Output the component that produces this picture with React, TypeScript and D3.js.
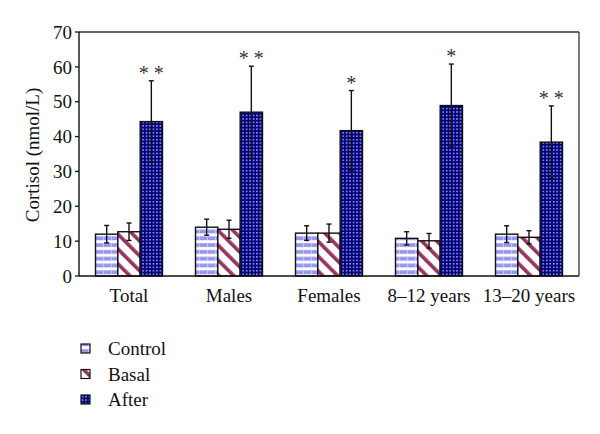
import React from "react";
import * as d3 from "d3";

const categories = ["Total", "Males", "Females", "8–12 years", "13–20 years"];
const seriesNames = ["Control", "Basal", "After"];
const controlValues = [12.0, 14.0, 12.3, 10.8, 12.0];
const controlErrors = [2.5, 2.3, 2.1, 1.9, 2.4];
const basalValues = [12.7, 13.4, 12.3, 10.1, 11.1];
const basalErrors = [2.5, 2.6, 2.6, 2.1, 1.9];
const afterValues = [44.3, 47.0, 41.7, 48.9, 38.4];
const afterErrors = [11.7, 13.2, 11.5, 11.9, 10.4];
const significance = ["**", "**", "*", "*", "**"];
const yTicks = [0, 10, 20, 30, 40, 50, 60, 70];
const yLabel = "Cortisol (nmol/L)";

const W = 600;
const H = 434;
const M = { left: 79, right: 21, top: 32, bottom: 158 };
const FONT = "'Liberation Serif', 'DejaVu Serif', serif";
const fills = ["url(#pControl)", "url(#pBasal)", "url(#pAfter)"];

export default function App() {
  const x0 = d3
    .scaleBand<string>()
    .domain(categories)
    .range([M.left, W - M.right])
    .paddingInner(0.33)
    .paddingOuter(0.165);
  const x1 = d3
    .scaleBand<string>()
    .domain(seriesNames)
    .range([0, x0.bandwidth()]);
  const y = d3.scaleLinear().domain([0, 70]).range([H - M.bottom, M.top]);

  const values = [controlValues, basalValues, afterValues];
  const errors = [controlErrors, basalErrors, afterErrors];
  const capW = 5;

  return (
    <svg
      width={W}
      height={H}
      style={{ position: "absolute", left: 0, top: 0, background: "#fff", fontFamily: FONT }}
    >
      <defs>
        <pattern id="pControl" patternUnits="userSpaceOnUse" width="8" height="6.8" y={H - M.bottom}>
          <rect width="8" height="6.8" fill="#ffffff" />
          <rect y="1.2" width="8" height="3.8" fill="#9696f2" />
          <rect x="7" y="1.2" width="1" height="3.8" fill="#c4c4f8" />
        </pattern>
        <pattern
          id="pBasal"
          patternUnits="userSpaceOnUse"
          width="10.5"
          height="10.5"
          patternTransform="rotate(-45)"
        >
          <rect width="10.5" height="10.5" fill="#ffffff" />
          <rect width="3.6" height="10.5" fill="#993361" />
        </pattern>
        <pattern id="pAfter" patternUnits="userSpaceOnUse" width="3.45" height="3.45">
          <rect width="3.45" height="3.45" fill="#000080" />
          <rect x="1" y="1" width="1.3" height="1.3" fill="#e6e6ff" />
        </pattern>
      </defs>

      {/* plot frame top and right */}
      <line x1={M.left} x2={W - M.right} y1={M.top} y2={M.top} stroke="#333" strokeWidth={1.3} />
      <line x1={W - M.right} x2={W - M.right} y1={M.top} y2={H - M.bottom} stroke="#333" strokeWidth={1.3} />

      {/* bars */}
      {categories.map((c, i) => (
        <g key={c}>
          {seriesNames.map((s, k) => {
            const v = values[k][i];
            const e = errors[k][i];
            const bx = (x0(c) as number) + (x1(s) as number);
            const bw = x1.bandwidth();
            const cx = bx + bw / 2;
            return (
              <g key={s}>
                <rect
                  x={bx}
                  y={y(v)}
                  width={bw}
                  height={y(0) - y(v)}
                  fill={fills[k]}
                  stroke="#111"
                  strokeWidth={1.4}
                />
                <line x1={cx} x2={cx} y1={y(v + e)} y2={y(v - e)} stroke="#111" strokeWidth={1.4} />
                <line x1={cx - capW / 2} x2={cx + capW / 2} y1={y(v + e)} y2={y(v + e)} stroke="#111" strokeWidth={1.4} />
                <line x1={cx - capW / 2} x2={cx + capW / 2} y1={y(v - e)} y2={y(v - e)} stroke="#111" strokeWidth={1.4} />
                {k === 2 && (
                  <text
                    x={cx}
                    y={y(v + e) - 1}
                    textAnchor="middle"
                    fontSize={20}
                    fill="#333"
                  >
                    {significance[i].split("").join(" ")}
                  </text>
                )}
              </g>
            );
          })}
        </g>
      ))}

      {/* x axis */}
      <line x1={M.left} x2={W - M.right} y1={y(0)} y2={y(0)} stroke="#111" strokeWidth={1.4} />
      {categories.map((c) => (
        <text
          key={c}
          x={(x0(c) as number) + x0.bandwidth() / 2}
          y={302}
          textAnchor="middle"
          fontSize={19}
          fill="#111"
        >
          {c}
        </text>
      ))}

      {/* y axis */}
      <line x1={M.left} x2={M.left} y1={M.top} y2={y(0)} stroke="#111" strokeWidth={1.4} />
      {yTicks.map((t) => (
        <g key={t}>
          <line x1={M.left - 4} x2={M.left} y1={y(t)} y2={y(t)} stroke="#111" strokeWidth={1.3} />
          <text x={M.left - 7} y={y(t)} dy="0.35em" textAnchor="end" fontSize={19} fill="#111">
            {t}
          </text>
        </g>
      ))}
      <text
        transform={`translate(39, ${(M.top + y(0)) / 2 + 1}) rotate(-90)`}
        textAnchor="middle"
        fontSize={19}
        fill="#111"
      >
        {yLabel}
      </text>

      {/* legend */}
      {seriesNames.map((s, k) => (
        <g key={s} transform={`translate(81, ${344 + k * 25.5})`}>
          <rect width={9} height={9} fill={fills[k]} stroke="#111" strokeWidth={1.2} />
          <text x={27} y={4.5} dy="0.35em" fontSize={19} fill="#111">
            {s}
          </text>
        </g>
      ))}
    </svg>
  );
}
